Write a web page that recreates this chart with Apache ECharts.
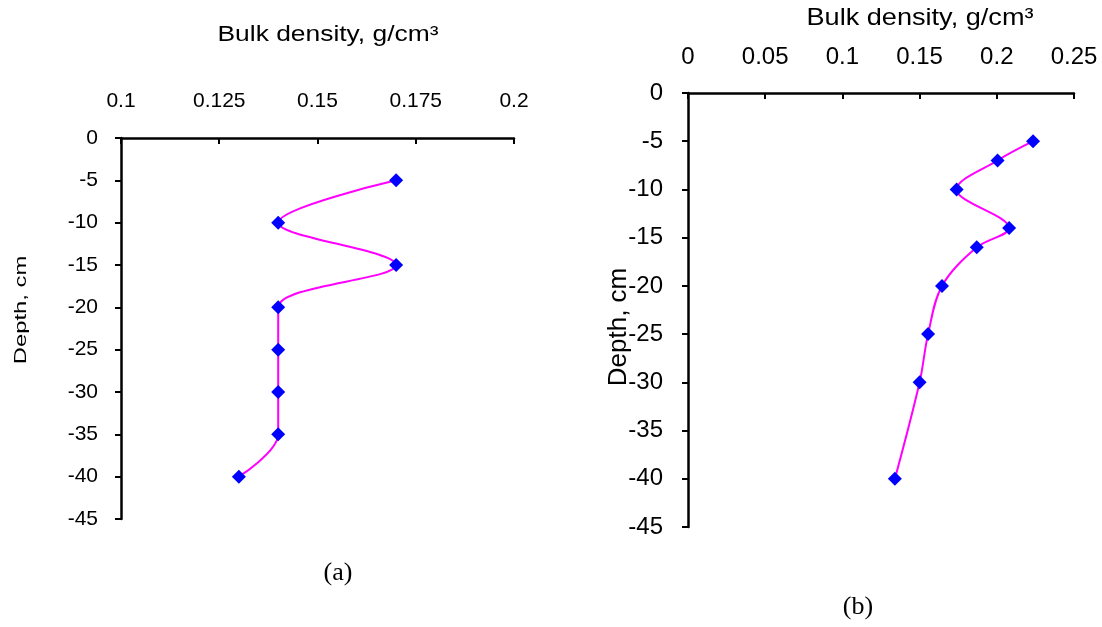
<!DOCTYPE html>
<html>
<head>
<meta charset="utf-8">
<script src="https://cdn.jsdelivr.net/npm/echarts@6/dist/echarts.min.js"></script>
<style>
  html, body { margin:0; padding:0; background:#fff; }
  #chart { width:1102px; height:627px; }
</style>
</head>
<body>
<div id="chart"></div>
<script>
// perfis de densidade (a) e (b)
const depthA   = [-5, -10, -15, -20, -25, -30, -35, -40];
const densityA = [0.17, 0.14, 0.17, 0.14, 0.14, 0.14, 0.14, 0.13];

const depthB   = [-5, -7, -10, -14, -16, -20, -25, -30, -40];
const densityB = [0.2235, 0.2005, 0.174, 0.208, 0.187, 0.1645, 0.1555, 0.15, 0.134];

const xTicksA = [0.1, 0.125, 0.15, 0.175, 0.2];
const xTicksB = [0, 0.05, 0.1, 0.15, 0.2, 0.25];
const yTicks  = [0, -5, -10, -15, -20, -25, -30, -35, -40, -45];

const FONT  = '"Liberation Sans", Arial, sans-serif';
const SERIF = '"Liberation Serif", "Times New Roman", serif';
const fmt = v => String(+(+v).toFixed(3));

function xAxisFor(idx, ticks, size, margin) {
  return {
    gridIndex: idx, type: 'value', position: 'top',
    min: ticks[0], max: ticks[ticks.length - 1], interval: ticks[1] - ticks[0],
    splitLine: { show: false },
    axisLine: { onZero: false, lineStyle: { color: '#000', width: 2.5 } },
    axisTick: { inside: true, length: 6, lineStyle: { color: '#000', width: 2 } },
    axisLabel: { color: '#000', fontSize: size, fontFamily: FONT, margin: margin, formatter: fmt }
  };
}
function yAxisFor(idx, size, margin) {
  return {
    gridIndex: idx, type: 'value',
    min: yTicks[yTicks.length - 1], max: yTicks[0], interval: 5,
    splitLine: { show: false },
    axisLine: { onZero: false, lineStyle: { color: '#000', width: 2.5 } },
    axisTick: { length: 6, lineStyle: { color: '#000', width: 2 } },
    axisLabel: { color: '#000', fontSize: size, fontFamily: FONT, margin: margin }
  };
}
function serieFor(idx, xs, ys) {
  return {
    type: 'line', xAxisIndex: idx, yAxisIndex: idx,
    data: xs.map((x, i) => [x, ys[i]]),
    smooth: 0.35,
    symbol: 'diamond', symbolSize: 14,
    itemStyle: { color: '#0000ff' },
    lineStyle: { color: '#ff00ff', width: 2 },
    animation: false
  };
}
function txt(x, y, s, font, extra) {
  return Object.assign({ type: 'text', x: x, y: y,
    style: { text: s, font: font, fill: '#000', textAlign: 'center', textVerticalAlign: 'middle' } }, extra || {});
}

const chart = echarts.init(document.getElementById('chart'), null, { renderer: 'canvas' });
chart.setOption({
  backgroundColor: '#fff',
  animation: false,
  grid: [
    { left: 121, top: 138, width: 393, height: 381 },
    { left: 688, top: 93, width: 386, height: 434 }
  ],
  xAxis: [ xAxisFor(0, xTicksA, 21, 26), xAxisFor(1, xTicksB, 24, 24) ],
  yAxis: [ yAxisFor(0, 21, 23), yAxisFor(1, 24, 25) ],
  series: [ serieFor(0, densityA, depthA), serieFor(1, densityB, depthB) ],
  graphic: [
    txt(328, 35, 'Bulk density, g/cm³', '22px ' + FONT, { scaleX: 1.2 }),
    txt(920, 18, 'Bulk density, g/cm³', '24px ' + FONT, { scaleX: 1.13 }),
    txt(21, 310, 'Depth, cm', '17px ' + FONT, { rotation: Math.PI / 2, scaleX: 1.4 }),
    txt(619, 327, 'Depth, cm', '26px ' + FONT, { rotation: Math.PI / 2 }),
    txt(338, 573, '(a)', '26px ' + SERIF),
    txt(858, 607, '(b)', '26px ' + SERIF)
  ]
});
</script>
</body>
</html>
